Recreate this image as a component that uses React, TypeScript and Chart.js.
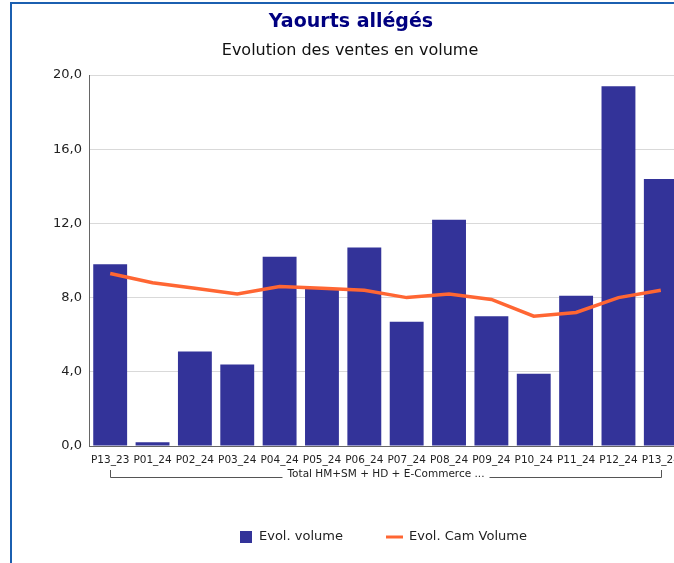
import React, { useEffect, useRef } from "react";
import { Chart, registerables } from "chart.js";

Chart.register(...registerables);

const categories = ["P13_23", "P01_24", "P02_24", "P03_24", "P04_24", "P05_24", "P06_24", "P07_24", "P08_24", "P09_24", "P10_24", "P11_24", "P12_24", "P13_24"];
const evolVolume = [9.8, 0.2, 5.1, 4.4, 10.2, 8.5, 10.7, 6.7, 12.2, 7.0, 3.9, 8.1, 19.4, 14.4];
const evolCamVolume = [9.3, 8.8, 8.5, 8.2, 8.6, 8.5, 8.4, 8.0, 8.2, 7.9, 7.0, 7.2, 8.0, 8.4];
const yTicks = [0, 4, 8, 12, 16, 20];
const titleText = "Yaourts allégés";
const subtitleText = "Evolution des ventes en volume";
const groupLabel = "Total HM+SM + HD + E-Commerce ...";
const seriesNames = ["Evol. volume", "Evol. Cam Volume"];

const BAR_COLOR = "#333399";
const LINE_COLOR = "#ff6633";
const FONT = "'DejaVu Sans', Verdana, sans-serif";

const decorPlugin = {
  id: "decor",
  afterDraw(chart: any) {
    const ctx = chart.ctx;
    const x = chart.scales.x;
    ctx.save();
    // Titles
    ctx.textAlign = "center";
    ctx.textBaseline = "alphabetic";
    ctx.fillStyle = "#000080";
    ctx.font = `bold 19px ${FONT}`;
    ctx.fillText(titleText, 351, 27);
    ctx.fillStyle = "#111111";
    ctx.font = `16px ${FONT}`;
    ctx.fillText(subtitleText, 350, 55);

    // Group bracket
    const x0 = Math.round(x.getPixelForValue(0)) + 0.5;
    const x1 = Math.round(x.getPixelForValue(categories.length - 1)) + 0.5;
    const yb = 477.5;
    const cx = (x0 + x1) / 2;
    ctx.font = `10.5px ${FONT}`;
    const tw = ctx.measureText(groupLabel).width;
    ctx.strokeStyle = "#555555";
    ctx.lineWidth = 1;
    ctx.beginPath();
    ctx.moveTo(x0, 470);
    ctx.lineTo(x0, yb);
    ctx.lineTo(cx - tw / 2 - 5, yb);
    ctx.moveTo(cx + tw / 2 + 5, yb);
    ctx.lineTo(x1, yb);
    ctx.lineTo(x1, 470);
    ctx.stroke();
    ctx.fillStyle = "#222222";
    ctx.textBaseline = "middle";
    ctx.fillText(groupLabel, cx, 474);

    // Legend
    ctx.textAlign = "left";
    ctx.textBaseline = "middle";
    ctx.font = `13px ${FONT}`;
    ctx.fillStyle = BAR_COLOR;
    ctx.fillRect(240, 531, 12, 12);
    ctx.fillStyle = "#222222";
    ctx.fillText(seriesNames[0], 259, 537);
    ctx.strokeStyle = LINE_COLOR;
    ctx.lineWidth = 3;
    ctx.beginPath();
    ctx.moveTo(386, 537);
    ctx.lineTo(403, 537);
    ctx.stroke();
    ctx.fillText(seriesNames[1], 409, 537);
    ctx.restore();
  },
};

export default function App() {
  const canvasRef = useRef<HTMLCanvasElement | null>(null);

  useEffect(() => {
    const canvas = canvasRef.current;
    if (!canvas) return;
    const chart = new Chart(canvas, {
      type: "bar",
      data: {
        labels: categories,
        datasets: [
          {
            type: "line",
            label: seriesNames[1],
            data: evolCamVolume,
            borderColor: LINE_COLOR,
            backgroundColor: LINE_COLOR,
            borderWidth: 3.5,
            pointRadius: 0,
            tension: 0,
            order: 0,
          } as any,
          {
            type: "bar",
            label: seriesNames[0],
            data: evolVolume,
            backgroundColor: BAR_COLOR,
            borderWidth: 0,
            barPercentage: 0.8,
            categoryPercentage: 1,
            order: 1,
          },
        ],
      },
      options: {
        responsive: false,
        animation: false,
        devicePixelRatio: 1,
        layout: { padding: { left: 0, right: 38, top: 75, bottom: 0 } },
        plugins: {
          legend: { display: false },
          title: { display: false },
          tooltip: { enabled: false },
        },
        scales: {
          x: {
            offset: true,
            grid: { display: true, color: "transparent", drawTicks: false },
            border: { display: true, color: "#666666", width: 1 },
            ticks: {
              color: "#222222",
              font: { family: FONT, size: 10.5 },
              padding: 8,
              maxRotation: 0,
              autoSkip: false,
            },
            afterFit(scale: any) {
              scale.height = 117;
            },
          },
          y: {
            min: 0,
            max: 20,
            afterBuildTicks(scale: any) {
              scale.ticks = yTicks.map((v) => ({ value: v }));
            },
            grid: { color: "#d9d9d9", drawTicks: false, lineWidth: 1 },
            border: { display: true, color: "#666666", width: 1 },
            ticks: {
              color: "#222222",
              font: { family: FONT, size: 13 },
              padding: 7,
              callback: (v: any) => Number(v).toFixed(1).replace(".", ","),
            },
            afterFit(scale: any) {
              scale.width = 89;
            },
          },
        },
      },
      plugins: [decorPlugin],
    });
    return () => chart.destroy();
  }, []);

  return (
    <div
      style={{
        position: "fixed",
        left: 0,
        top: 0,
        width: 674,
        height: 563,
        overflow: "hidden",
        background: "#ffffff",
      }}
    >
      <div
        style={{
          position: "absolute",
          left: 10,
          top: 2,
          width: 900,
          height: 900,
          borderLeft: "2px solid #1b5fb0",
          borderTop: "2px solid #1b5fb0",
        }}
      />
      <canvas
        ref={canvasRef}
        width={720}
        height={563}
        style={{ position: "absolute", left: 0, top: 0, width: 720, height: 563 }}
      />
    </div>
  );
}
